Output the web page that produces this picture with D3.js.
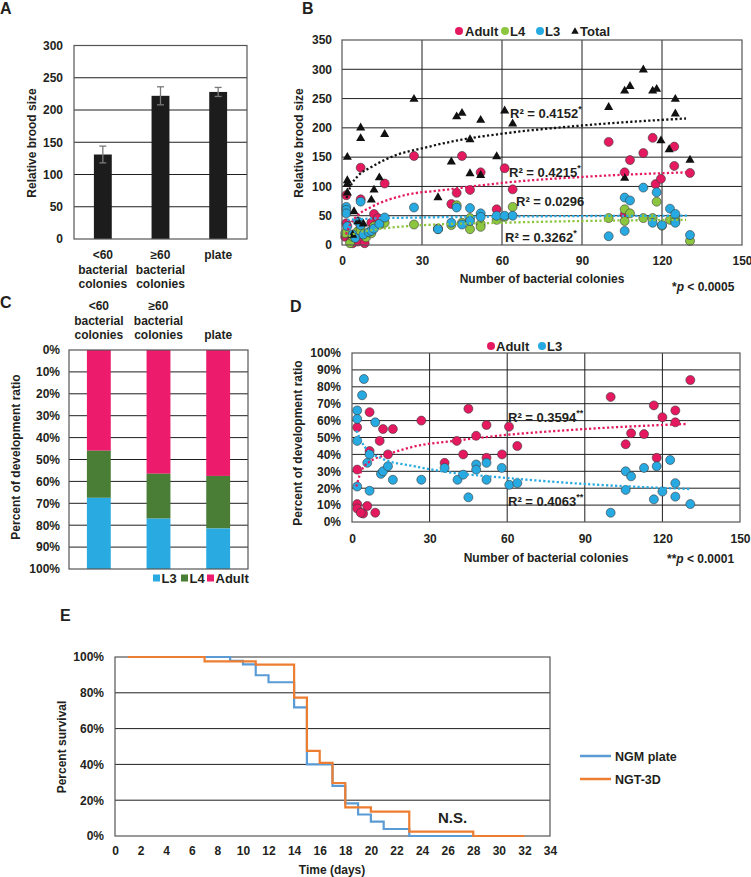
<!DOCTYPE html>
<html><head><meta charset="utf-8">
<script src="https://cdn.jsdelivr.net/npm/d3@7"></script>
<style>
body{margin:0;background:#fff;}
text{font-family:'Liberation Sans',Arial,sans-serif;font-weight:bold;fill:#231f20;font-size:12px;}
</style>
</head><body><script>
// ================= DATA =================
// Panel A
const aCategories = [["<60","bacterial","colonies"],["≥60","bacterial","colonies"],["plate"]];
const aBroodMean = [131,222,228];
const aBroodErr = [13,14,7];
const aTicks = [0,50,100,150,200,250,300];

// Panel B  [colonies, brood size]
const bAdult = [[1.6,85],[1.6,37],[1.2,14],[3.4,8],[4,3],[6,6],[8.5,3],[7,132],[7,78],[11,38],[12,53],[13.5,46],[16,105],[27,152],[36,28],[41,70],[43,89],[45,152],[48,94],[52,124],[58,61],[61,131],[64,95],[100,176],[106,124],[106,52],[108,145],[113,157],[116.5,183],[117.6,104],[119.6,113],[124.6,168],[124.6,135],[130.5,123]];
const bL4 = [[1.2,20],[3,3],[4,14],[6,24],[7,28],[9,13],[11,20],[12,32],[14.8,36],[16,38],[27,35],[36,27],[41,34],[43,68],[45,38],[48,46],[48,27],[52,36],[52,31],[58,43],[61,48],[64,65],[100,46],[106,61],[106,41],[108,54],[113,46],[116.5,46],[118,74],[120,33],[123,43],[125,46],[125,40],[130.5,7]];
const bL3 = [[1.6,65],[1.6,60],[1.6,54],[2,32],[4,18],[5,12],[6,40],[7,74],[7,34],[8,18],[10,22],[11,24],[12,28],[14,36],[16,47],[27,64],[36,27],[41,38],[43,64],[45,35],[48,63],[48,41],[52,54],[52,48],[58,50],[61,50],[64,50],[100,15],[106,81],[106,24],[108,76],[113,98],[116.5,38],[118,90],[120,34],[123,62],[125,53],[125,38],[130.5,17]];
const bTotal = [[2,150],[2,110],[2,104],[2,89],[4,17],[4.5,57],[6,40],[7,200],[7,182],[8,36],[11,77],[12,94],[14,115],[16,189],[27,249],[36,81],[41,142],[43,219],[45,225],[48,180],[48,122],[52,213],[52,119],[58,151],[61,229],[64,207],[100,235],[106,263],[106,114],[108,271],[113,299],[116.5,263],[118,266],[119.6,178],[122.7,163],[125,249],[125,224],[130.5,145]];
const bTrendTotal = [[1.7,80],[3,98],[6,118],[11,133],[20,153],[30,165],[45,180],[60,190],[90,204],[129,216]];
const bTrendAdult = [[1.5,18],[3,34],[6,51],[11,65],[23.5,85],[38.5,94],[60,106],[93,117],[129,124]];
const bTrendL3 = [[2,43],[10,45],[30,47],[60,48.5],[130,50]];
const bTrendL4 = [[2.5,15],[5,20],[12,26],[27,33],[60,38],[90,41],[129,43]];
const bYTicks = [0,50,100,150,200,250,300,350];
const bXTicks = [0,30,60,90,120,150];

// Panel C (fractions, stacked from top: Adult, L4, L3)
const cCategories = [["<60","bacterial","colonies"],["≥60","bacterial","colonies"],["plate"]];
const cAdult = [0.46,0.565,0.575];
const cL4 = [0.215,0.205,0.24];
const cL3 = [0.325,0.23,0.185];
const cTicks = [0,0.1,0.2,0.3,0.4,0.5,0.6,0.7,0.8,0.9,1.0];

// Panel D [colonies, percent]
const dAdult = [[2,56],[2,31],[2,10.6],[2,8],[4.3,5],[3.4,5.5],[5.9,9.5],[9,5.5],[6.8,65],[6.8,42],[10.7,48],[12,55],[13.9,40],[15.8,55],[26.8,60],[35.8,35],[40.5,48],[43,40],[45,67],[48,51],[52,57.4],[52,38],[58,40],[60.7,56.4],[63.9,45],[100,74],[105.8,46],[107.9,52.5],[112.9,52],[116.7,69],[117.8,38],[120,62],[125,66],[125,59],[130.8,84]];
const dL3 = [[4.6,84.6],[3.9,75],[2,66],[2,61],[2,48],[2,21],[9,59],[6.8,40],[5.9,35],[6.8,18.5],[11.2,28.5],[12,30],[13.9,33],[15.8,25],[26.8,25],[35.8,32],[40.8,25],[43,28],[45,14.6],[48,34],[48,31],[52,35],[52,25],[57.9,32],[60.8,22],[63.9,23],[100,5.5],[105.8,30],[105.8,19],[107.9,27],[112.9,32],[116.7,13.4],[117.8,33],[120,18],[123,36.7],[125,23],[125,15],[130.8,10.6]];
const dTrendAdult = [[1.7,21],[3,28],[6.2,35],[13.9,40],[25,45],[39.7,48],[53,50.5],[90,55],[129,58]];
const dTrendL3 = [[1.7,54],[4.9,44.5],[11.3,37.7],[24,33],[39.7,29],[53,27],[90,22.5],[130.7,19.5]];
const dYTicks = [0,10,20,30,40,50,60,70,80,90,100];
const dXTicks = [0,30,60,90,120,150];

// Panel E [day, survival fraction]
const eNGM = [[1,1],[9,0.978],[10,0.959],[11,0.898],[12,0.859],[14,0.719],[15,0.40],[17,0.28],[18,0.182],[19,0.12],[20,0.08],[21,0.039],[23,0],[28,0]];
const eNGT = [[1,1],[7,0.976],[11,0.957],[14,0.773],[15,0.476],[16,0.409],[17,0.296],[18,0.16],[20,0.136],[23,0.024],[28,0],[32,0]];
const eYTicks = [0,0.2,0.4,0.6,0.8,1.0];
const eXTicks = d3.range(0,35,2);

// ================= COLOURS =================
const PINK = '#e5195f', GREEN = '#8cc63f', BLUE = '#27aae1', CL3 = '#29abe2', CL4 = '#4a7d36', CAD = '#ec1b6b';
const GRID = '#1f1f1f', BORDER = '#555';

const svg = d3.select('body').append('svg').attr('width',751).attr('height',877);

function panelLabel(t,x,y){ svg.append('text').attr('x',x).attr('y',y).style('font-size','16px').text(t); }
panelLabel('A',0,14); panelLabel('B',302,14); panelLabel('C',0,308); panelLabel('D',290,312); panelLabel('E',60,621);

function border(g,P){ g.append('rect').attr('x',P.l).attr('y',P.t).attr('width',P.r-P.l).attr('height',P.b-P.t).attr('fill','none').attr('stroke',BORDER).attr('stroke-width',1.2); }
function hGrid(g,P,y,vals){ g.append('g').selectAll('line').data(vals).join('line').attr('x1',P.l).attr('x2',P.r).attr('y1',d=>y(d)).attr('y2',d=>y(d)).attr('stroke',GRID).attr('stroke-width',1); }
function vGrid(g,P,x,vals){ g.append('g').selectAll('line').data(vals).join('line').attr('y1',P.t).attr('y2',P.b).attr('x1',d=>x(d)).attr('x2',d=>x(d)).attr('stroke',GRID).attr('stroke-width',1); }
function yAxis(g,P,y,vals,fmt,pad){ g.append('g').attr('transform',`translate(${P.l},0)`).call(d3.axisLeft(y).tickValues(vals).tickSize(0).tickPadding(pad).tickFormat(fmt)).call(s=>s.select('.domain').remove()); }
function xAxis(g,P,x,vals,pad){ const a=g.append('g').attr('transform',`translate(0,${P.b})`).call(d3.axisBottom(x).tickValues(vals).tickSize(0).tickPadding(pad)).call(s=>s.select('.domain').remove()); return a; }
function vTitle(g,t,x,y){ g.append('text').attr('transform',`translate(${x},${y}) rotate(-90)`).attr('text-anchor','middle').attr('dy','0.35em').text(t); }
function r2(g,x,y,val,stars){ const t=g.append('text').attr('x',x).attr('y',y).style('font-size','13px').text('R² = '+val); if(stars) t.append('tspan').attr('dy',-6).style('font-size','9px').text(stars); }
function trend(g,x,y,pts,color){ g.append('path').datum(pts).attr('d',d3.line().x(d=>x(d[0])).y(d=>y(d[1])).curve(d3.curveMonotoneX)).attr('fill','none').attr('stroke',color).attr('stroke-width',2.3).attr('stroke-dasharray','2.2,2.3'); }

// ================= PANEL A =================
{
  const P={l:74,r:247,t:45.5,b:239};
  const g=svg.append('g');
  const x=d3.scaleBand().domain(d3.range(aBroodMean.length)).range([P.l,P.r]).paddingInner(0.69).paddingOuter(0.345);
  const y=d3.scaleLinear().domain([0,300]).range([P.b,P.t]);
  hGrid(g,P,y,aTicks.slice(1,-1));
  g.selectAll('rect.bar').data(aBroodMean).join('rect').attr('x',(d,i)=>x(i)).attr('width',x.bandwidth()).attr('y',d=>y(d)).attr('height',d=>y(0)-y(d)).attr('fill','#1c1c1c');
  const eb=g.selectAll('g.eb').data(aBroodMean).join('g').attr('stroke','#7a7a7a').attr('stroke-width',1.3);
  eb.append('line').attr('x1',(d,i)=>x(i)+x.bandwidth()/2).attr('x2',(d,i)=>x(i)+x.bandwidth()/2).attr('y1',(d,i)=>y(d-aBroodErr[i])).attr('y2',(d,i)=>y(d+aBroodErr[i]));
  eb.append('line').attr('x1',(d,i)=>x(i)+x.bandwidth()/2-3.5).attr('x2',(d,i)=>x(i)+x.bandwidth()/2+3.5).attr('y1',(d,i)=>y(d+aBroodErr[i])).attr('y2',(d,i)=>y(d+aBroodErr[i]));
  eb.append('line').attr('x1',(d,i)=>x(i)+x.bandwidth()/2-3.5).attr('x2',(d,i)=>x(i)+x.bandwidth()/2+3.5).attr('y1',(d,i)=>y(d-aBroodErr[i])).attr('y2',(d,i)=>y(d-aBroodErr[i]));
  border(g,P);
  yAxis(g,P,y,aTicks,d=>d,11);
  vTitle(g,'Relative brood size',32,143);
  const rows=[259,273.5,288];
  aCategories.forEach((lines,i)=>{ lines.forEach((s,j)=>{ g.append('text').attr('x',x(i)+x.bandwidth()/2).attr('y',rows[j]).attr('text-anchor','middle').text(s); }); });
}

// ================= PANEL B =================
{
  const P={l:342,r:742,t:40,b:245};
  const g=svg.append('g');
  const x=d3.scaleLinear().domain([0,150]).range([P.l,P.r]);
  const y=d3.scaleLinear().domain([0,350]).range([P.b,P.t]);
  hGrid(g,P,y,bYTicks.slice(1,-1));
  vGrid(g,P,x,bXTicks.slice(1,-1));
  const dots=(data,color)=>g.append('g').selectAll('circle').data(data).join('circle').attr('cx',d=>x(d[0])).attr('cy',d=>y(d[1])).attr('r',4.5).attr('fill',color).attr('stroke','#3a3a3a').attr('stroke-width',0.6);
  dots(bAdult,PINK); dots(bL4,GREEN); dots(bL3,BLUE);
  const tri=d3.symbol(d3.symbolTriangle).size(36);
  g.append('g').selectAll('path').data(bTotal).join('path').attr('transform',d=>`translate(${x(d[0])},${y(d[1])})`).attr('d',tri).attr('fill','#111');
  trend(g,x,y,bTrendTotal,'#111'); trend(g,x,y,bTrendAdult,PINK); trend(g,x,y,bTrendL3,BLUE); trend(g,x,y,bTrendL4,GREEN);
  border(g,P);
  yAxis(g,P,y,bYTicks,d=>d,10);
  const xa=xAxis(g,P,x,bXTicks,11.5);
  xa.selectAll('.tick text').filter(d=>d===150).attr('text-anchor','end').attr('dx',10);
  vTitle(g,'Relative brood size',299,143);
  g.append('text').attr('x',542).attr('y',283).attr('text-anchor','middle').text('Number of bacterial colonies');
  const pt=g.append('text').attr('x',672).attr('y',291); pt.append('tspan').text('*'); pt.append('tspan').style('font-style','italic').text('p'); pt.append('tspan').text(' < 0.0005');
  r2(g,510,118,'0.4152','*'); r2(g,509,177,'0.4215','*'); r2(g,516,206,'0.0296',''); r2(g,505,242,'0.3262','*');
  // legend
  const L=g.append('g');
  L.append('circle').attr('cx',459).attr('cy',31).attr('r',4).attr('fill',PINK);
  L.append('text').attr('x',465).attr('y',35.5).style('font-size','13px').text('Adult');
  L.append('circle').attr('cx',505).attr('cy',31).attr('r',4).attr('fill',GREEN);
  L.append('text').attr('x',510).attr('y',35.5).style('font-size','13px').text('L4');
  L.append('circle').attr('cx',540).attr('cy',31).attr('r',4).attr('fill',BLUE);
  L.append('text').attr('x',545).attr('y',35.5).style('font-size','13px').text('L3');
  L.append('path').attr('transform','translate(575,31.5)').attr('d',d3.symbol(d3.symbolTriangle).size(24)).attr('fill','#111');
  L.append('text').attr('x',580).attr('y',35.5).style('font-size','13px').text('Total');
}

// ================= PANEL C =================
{
  const P={l:69,r:248,t:350,b:569};
  const g=svg.append('g');
  const x=d3.scaleBand().domain(d3.range(cAdult.length)).range([P.l,P.r]).paddingInner(0.6).paddingOuter(0.3);
  const y=d3.scaleLinear().domain([0,1]).range([P.t,P.b]);
  hGrid(g,P,y,cTicks.slice(1,-1));
  const table=cAdult.map((a,i)=>({Adult:a,L4:cL4[i],L3:cL3[i]}));
  const series=d3.stack().keys(['Adult','L4','L3'])(table);
  const col={Adult:CAD,L4:CL4,L3:CL3};
  series.forEach(s=>{ g.append('g').selectAll('rect').data(s).join('rect').attr('x',(d,i)=>x(i)).attr('width',x.bandwidth()).attr('y',d=>y(d[0])).attr('height',d=>y(d[1])-y(d[0])).attr('fill',col[s.key]); });
  border(g,P);
  yAxis(g,P,y,cTicks,d3.format('.0%'),9);
  vTitle(g,'Percent of development ratio',16,457);
  const rows=[310,325,339];
  cCategories.forEach((lines,i)=>{ const off=3-lines.length; lines.forEach((s,j)=>{ g.append('text').attr('x',x(i)+x.bandwidth()/2).attr('y',rows[j+off]).attr('text-anchor','middle').text(s); }); });
  const items=[['L3',CL3,153],['L4',CL4,181],['Adult',CAD,207]];
  items.forEach(([t,c,xx])=>{ g.append('rect').attr('x',xx).attr('y',574.5).attr('width',7).attr('height',7).attr('fill',c); g.append('text').attr('x',xx+8.5).attr('y',582.5).style('font-size','13px').text(t); });
}

// ================= PANEL D =================
{
  const P={l:352,r:740,t:353,b:522};
  const g=svg.append('g');
  const x=d3.scaleLinear().domain([0,150]).range([P.l,P.r]);
  const y=d3.scaleLinear().domain([0,100]).range([P.b,P.t]);
  hGrid(g,P,y,dYTicks.slice(1,-1));
  vGrid(g,P,x,dXTicks.slice(1,-1));
  const dots=(data,color)=>g.append('g').selectAll('circle').data(data).join('circle').attr('cx',d=>x(d[0])).attr('cy',d=>y(d[1])).attr('r',4.5).attr('fill',color).attr('stroke','#3a3a3a').attr('stroke-width',0.6);
  dots(dAdult,PINK); dots(dL3,BLUE);
  trend(g,x,y,dTrendAdult,PINK); trend(g,x,y,dTrendL3,BLUE);
  border(g,P);
  yAxis(g,P,y,dYTicks,d=>d+'%',11);
  xAxis(g,P,x,dXTicks,12.5);
  vTitle(g,'Percent of development ratio',298,443);
  g.append('text').attr('x',546).attr('y',562).attr('text-anchor','middle').text('Number of bacterial colonies');
  const pt=g.append('text').attr('x',667).attr('y',563); pt.append('tspan').text('**'); pt.append('tspan').style('font-style','italic').text('p'); pt.append('tspan').text(' < 0.0001');
  r2(g,508,422,'0.3594','**'); r2(g,508,506,'0.4063','**');
  const L=g.append('g');
  L.append('circle').attr('cx',491).attr('cy',346).attr('r',4).attr('fill',PINK);
  L.append('text').attr('x',496).attr('y',350.5).style('font-size','13px').text('Adult');
  L.append('circle').attr('cx',542).attr('cy',346).attr('r',4).attr('fill',BLUE);
  L.append('text').attr('x',547).attr('y',350.5).style('font-size','13px').text('L3');
}

// ================= PANEL E =================
{
  const P={l:115,r:550,t:657,b:836};
  const g=svg.append('g');
  const x=d3.scaleLinear().domain([0,34]).range([P.l,P.r]);
  const y=d3.scaleLinear().domain([0,1]).range([P.b,P.t]);
  hGrid(g,P,y,eYTicks.slice(1,-1));
  border(g,P);
  const line=d3.line().x(d=>x(d[0])).y(d=>y(d[1])).curve(d3.curveStepAfter);
  g.append('path').datum(eNGM).attr('d',line).attr('fill','none').attr('stroke','#5b9bd5').attr('stroke-width',2.2);
  g.append('path').datum(eNGT).attr('d',line).attr('fill','none').attr('stroke','#ed7d31').attr('stroke-width',2.2);
  yAxis(g,P,y,eYTicks,d3.format('.0%'),11);
  xAxis(g,P,x,eXTicks,10.5);
  vTitle(g,'Percent survival',62,747);
  g.append('text').attr('x',332).attr('y',874).attr('text-anchor','middle').text('Time (days)');
  g.append('text').attr('x',438).attr('y',823).style('font-size','15px').text('N.S.');
  [['NGM plate','#5b9bd5',756],['NGT-3D','#ed7d31',779]].forEach(([t,c,yy])=>{
    g.append('line').attr('x1',580).attr('x2',611).attr('y1',yy).attr('y2',yy).attr('stroke',c).attr('stroke-width',2.5);
    g.append('text').attr('x',615).attr('y',yy+4.5).style('font-size','12.5px').text(t);
  });
}
</script></body></html>
